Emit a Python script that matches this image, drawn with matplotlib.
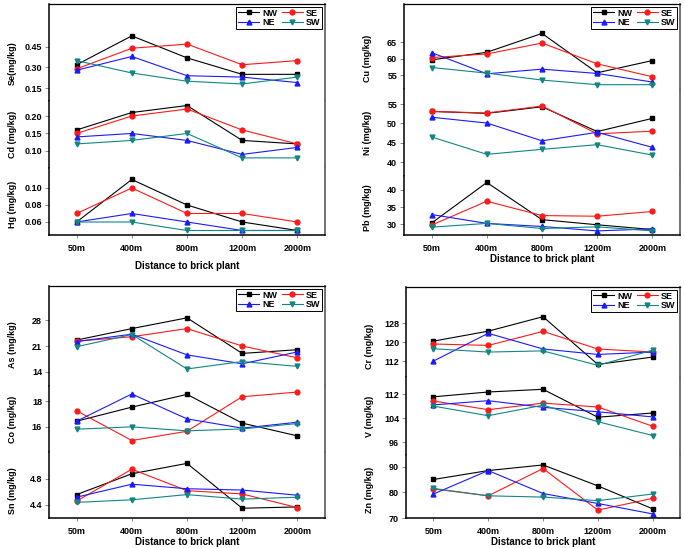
import matplotlib.pyplot as plt
from matplotlib.ticker import FormatStrFormatter

plt.rcParams['font.family'] = ['Liberation Sans', 'DejaVu Sans']
plt.rcParams['font.weight'] = 'bold'
plt.rcParams['axes.labelweight'] = 'bold'

# ── Data (mg/kg) ──────────────────────────────────────────────────────────────

distances  = ["50m", "400m", "800m", "1200m", "2000m"]
directions = ["NW", "SE", "NE", "SW"]

se = {"NW": [0.32, 0.53, 0.37, 0.25, 0.25], "SE": [0.29, 0.44, 0.47, 0.32, 0.35],
      "NE": [0.28, 0.38, 0.24, 0.23, 0.19], "SW": [0.35, 0.26, 0.20, 0.18, 0.23]}
cd = {"NW": [0.16, 0.21, 0.23, 0.13, 0.12], "SE": [0.15, 0.20, 0.22, 0.16, 0.12],
      "NE": [0.14, 0.15, 0.13, 0.09, 0.11], "SW": [0.12, 0.13, 0.15, 0.08, 0.08]}
hg = {"NW": [0.06, 0.11, 0.08, 0.06, 0.05], "SE": [0.07, 0.10, 0.07, 0.07, 0.06],
      "NE": [0.06, 0.07, 0.06, 0.05, 0.05], "SW": [0.06, 0.06, 0.05, 0.05, 0.05]}

cu = {"NW": [59.6, 61.9, 67.6, 55.7, 59.4], "SE": [60.3, 61.4, 64.7, 58.4, 54.5],
      "NE": [61.8, 55.4, 56.8, 55.5, 52.9], "SW": [57.3, 55.6, 53.5, 52.1, 52.1]}
ni = {"NW": [53.1, 52.6, 54.3, 47.9, 51.3], "SE": [53.1, 52.7, 54.5, 47.3, 48.0],
      "NE": [51.6, 50.1, 45.5, 47.7, 43.8], "SW": [46.5, 42.0, 43.3, 44.5, 41.8]}
pb = {"NW": [30.3, 42.2, 31.3, 29.8, 28.4], "SE": [29.7, 36.7, 32.5, 32.3, 33.7],
      "NE": [32.8, 30.2, 29.3, 28.0, 28.6], "SW": [29.1, 30.2, 28.7, 29.2, 28.0]}

as_ = {"NW": [22.6, 25.7, 28.6, 19.0, 20.0], "SE": [22.3, 23.5, 25.7, 21.0, 17.8],
       "NE": [22.2, 24.2, 18.6, 16.2, 19.4], "SW": [20.8, 24.1, 14.8, 16.8, 15.5]}
co = {"NW": [16.44, 17.53, 18.52, 16.29, 15.30], "SE": [17.25, 14.94, 15.66, 18.34, 18.70],
      "NE": [16.44, 18.55, 16.62, 15.90, 16.36], "SW": [15.82, 16.00, 15.69, 15.84, 16.26]}
sn = {"NW": [4.56, 4.88, 5.04, 4.35, 4.37], "SE": [4.46, 4.95, 4.62, 4.57, 4.36],
      "NE": [4.52, 4.72, 4.65, 4.63, 4.55], "SW": [4.44, 4.48, 4.56, 4.49, 4.52]}

cr = {"NW": [120.4, 124.6, 130.7, 110.6, 113.7], "SE": [119.2, 118.6, 124.5, 117.1, 115.8],
      "NE": [112.0, 123.7, 117.1, 114.8, 115.8], "SW": [117.2, 115.8, 116.3, 110.2, 116.6]}
v  = {"NW": [111.1, 112.7, 113.6, 104.3, 105.7], "SE": [109.7, 106.8, 109.0, 107.7, 101.3],
      "NE": [108.4, 109.8, 107.6, 106.1, 104.4], "SW": [108.0, 104.8, 108.3, 102.8, 98.2]}
zn = {"NW": [85.1, 88.6, 90.8, 82.6, 73.6], "SE": [81.4, 78.7, 89.4, 73.1, 77.7],
      "NE": [79.4, 88.6, 79.6, 75.7, 71.6], "SW": [81.6, 78.7, 78.2, 76.8, 79.4]}

# tick labels per element
se_ticks = [0.15, 0.30, 0.45]
cd_ticks = [0.10, 0.15, 0.20]
hg_ticks = [0.06, 0.08, 0.10]
cu_ticks = [55, 60, 65]
ni_ticks = [40, 45, 50, 55]
pb_ticks = [30, 35, 40]
as_ticks = [14, 21, 28]
co_ticks = [16, 18]
sn_ticks = [4.4, 4.8]
cr_ticks = [112, 120, 128]
v_ticks  = [96, 104, 112]
zn_ticks = [70, 80, 90]

# ── Styles / layout (pixels of a 685x548 canvas) ──────────────────────────────

W, H = 685, 548
style = {"NW": dict(color="black",   marker="s"),
         "SE": dict(color="#ff1a1a", marker="o"),
         "NE": dict(color="#1a1aff", marker="^"),
         "SW": dict(color="#138585", marker="v")}

# (x_left, x_right, xlabel pad, [(top, bottom, ylim, data, ticks, fmt, label, label_y)])
panels = [
    (49, 325, 6, [
        (4, 101, (0.056, 0.762), se, se_ticks, "%.2f", "Se(mg/kg)", 0.39),
        (101, 168, (0.051, 0.243), cd, cd_ticks, "%.2f", "Cd (mg/kg)", 0.5),
        (168, 235, (0.0447, 0.1235), hg, hg_ticks, "%.2f", "Hg (mg/kg)", 0.45)]),
    (404, 680, 1, [
        (4, 89, (50.8, 76.5), cu, cu_ticks, "%d", "Cu (mg/kg)", 0.36),
        (89, 176, (36.4, 58.9), ni, ni_ticks, "%d", "Ni (mg/kg)", 0.5),
        (176, 235, (26.8, 44.1), pb, pb_ticks, "%d", "Pb (mg/kg)", 0.47)]),
    (49, 325, 1, [
        (286, 386, (10.2, 37.2), as_, as_ticks, "%d", "As (mg/kg)", 0.41),
        (386, 452, (14.05, 19.17), co, co_ticks, "%d", "Co (mg/kg)", 0.5),
        (452, 518, (4.2, 5.215), sn, sn_ticks, "%.1f", "Sn (mg/kg)", 0.42)]),
    (406, 680, 1, [
        (287, 377, (105.3, 143.2), cr, cr_ticks, "%d", "Cr (mg/kg)", 0.34),
        (377, 455, (91.7, 117.7), v, v_ticks, "%d", "V (mg/kg)", 0.5),
        (455, 518, (70, 94.7), zn, zn_ticks, "%d", "Zn (mg/kg)", 0.45)]),
]

fig = plt.figure(figsize=(W / 100, H / 100), dpi=100)
x = list(range(len(distances)))

for x0, x1, xpad, rows in panels:
    for i, (top, bot, ylim, data, ticks, fmt, label, ly) in enumerate(rows):
        ax = fig.add_axes([x0 / W, 1 - bot / H, (x1 - x0) / W, (bot - top) / H])
        handles = {}
        for d in directions:
            ln, = ax.plot(x, data[d], lw=0.8, ms=3.5, label=d, **style[d])
            handles[d] = ln
        ax.set_xlim(-0.5, 4.5)
        ax.set_ylim(*ylim)
        ax.set_yticks(ticks)
        ax.yaxis.set_major_formatter(FormatStrFormatter(fmt))
        ax.tick_params(axis="y", direction="out", length=3, width=0.6,
                       color="#777777", labelsize=6.5, pad=2)
        ax.set_ylabel(label, fontsize=6.5)
        ax.yaxis.set_label_coords(-0.115, ly)

        ax.spines["left"].set_linewidth(1.1)
        ax.spines["right"].set_color("#666666")
        ax.spines["right"].set_linewidth(1.3)
        ax.spines["top"].set_linewidth(0.9)
        ax.spines["bottom"].set_linewidth(1.1)
        if i > 0:
            ax.spines["top"].set_visible(False)
        if i < len(rows) - 1:
            ax.spines["bottom"].set_visible(False)
            ax.tick_params(axis="x", bottom=False, labelbottom=False)
        else:
            ax.set_xticks(x)
            ax.set_xticklabels(distances)
            ax.tick_params(axis="x", direction="out", length=2.5, width=0.6,
                           color="#777777", labelsize=6.5, pad=4)
            ax.set_xlabel("Distance to brick plant", fontsize=7, labelpad=xpad)
        if i == 0:
            ax.legend([handles[k] for k in ["NW", "NE", "SE", "SW"]],
                      ["NW", "NE", "SE", "SW"], ncol=2, loc="upper right",
                      fontsize=6.5, frameon=True, fancybox=False,
                      edgecolor="black", framealpha=1, handlelength=2.4,
                      handletextpad=0.3, columnspacing=0.5, labelspacing=0.1,
                      borderpad=0.2, borderaxespad=0.3).get_frame().set_linewidth(0.7)

fig.savefig("out.png", dpi=100)
